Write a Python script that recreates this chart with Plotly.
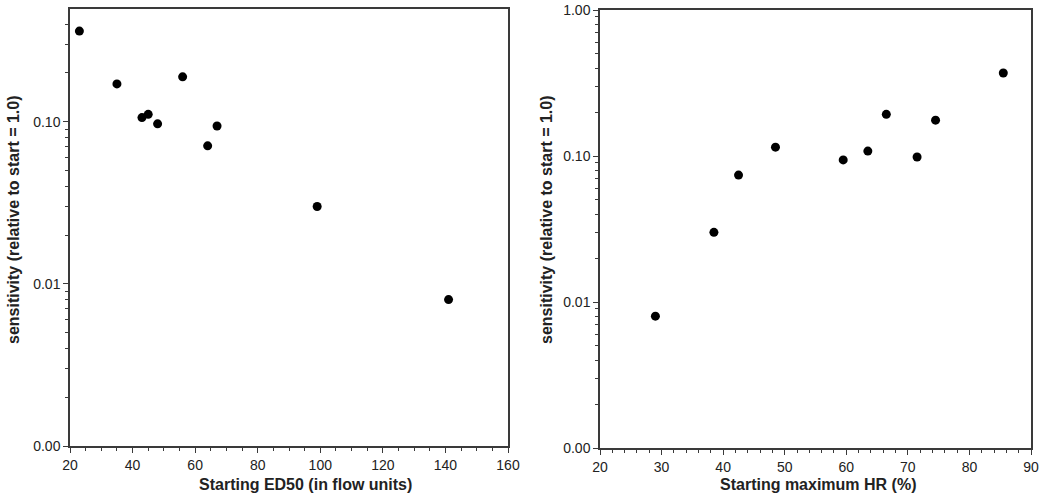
import plotly.graph_objects as go

# Left panel: starting ED50 vs sensitivity
ed50 = [23, 35, 43, 45, 48, 56, 64, 67, 99, 141]
sens_left = [0.362, 0.171, 0.106, 0.111, 0.097, 0.189, 0.071, 0.094, 0.030, 0.008]

# Right panel: starting maximum HR vs sensitivity
max_hr = [29, 38.5, 42.5, 48.5, 59.5, 63.5, 66.5, 71.5, 74.5, 85.5]
sens_right = [0.008, 0.030, 0.074, 0.115, 0.094, 0.108, 0.193, 0.0985, 0.176, 0.37]

y_tickvals = [0.001, 0.01, 0.1, 1.0]
y_ticktext = ["0.00", "0.01", "0.10", "1.00"]

ytitle = "sensitivity (relative to start = 1.0)"
xtitle_left = "Starting ED50 (in flow units)"
xtitle_right = "Starting maximum HR (%)"

FONT = "Liberation Sans, Arial, Helvetica, sans-serif"
LINE = "#3a3a3a"
W, H = 1050, 499

fig = go.Figure()
fig.add_trace(go.Scatter(x=ed50, y=sens_left, mode="markers",
                         marker=dict(color="black", size=9),
                         xaxis="x", yaxis="y", showlegend=False))
fig.add_trace(go.Scatter(x=max_hr, y=sens_right, mode="markers",
                         marker=dict(color="black", size=9),
                         xaxis="x2", yaxis="y2", showlegend=False))

common_axis = dict(showgrid=False, zeroline=False, showline=True, linecolor=LINE,
                   linewidth=1.5, mirror=True, ticks="outside", ticklen=5,
                   tickwidth=1.2, tickcolor=LINE, automargin=False,
                   tickfont=dict(family=FONT, size=14, color="#222"))

fig.update_layout(
    width=W, height=H,
    paper_bgcolor="white", plot_bgcolor="white",
    margin=dict(l=0, r=0, t=0, b=0),
    font=dict(family=FONT, color="#222"),
    xaxis=dict(domain=[70/W, 508/W], range=[20, 160], anchor="y",
               dtick=20, minor=dict(ticks="outside", dtick=5, ticklen=3, tickcolor=LINE),
               **common_axis),
    yaxis=dict(domain=[1 - 446/H, 1 - 9/H], type="log", range=[-3, -0.305], anchor="x",
               tickvals=y_tickvals, ticktext=y_ticktext,
               minor=dict(ticks="outside", dtick="D1", ticklen=3, tickcolor=LINE),
               **common_axis),
    xaxis2=dict(domain=[600/W, 1031/W], range=[20, 90], anchor="y2",
                dtick=10, minor=dict(ticks="outside", dtick=2, ticklen=3, tickcolor=LINE),
                **common_axis),
    yaxis2=dict(domain=[1 - 448/H, 1 - 10/H], type="log", range=[-3, 0], anchor="x2",
                tickvals=y_tickvals, ticktext=y_ticktext,
                minor=dict(ticks="outside", dtick="D1", ticklen=3, tickcolor=LINE),
                **common_axis),
)

title_font = dict(family=FONT, size=16, color="#222")
fig.add_annotation(text="<b>" + xtitle_left + "</b>", xref="paper", yref="paper",
                   x=305/W, y=1 - 474/H, xanchor="center", yanchor="top",
                   showarrow=False, font=title_font)
fig.add_annotation(text="<b>" + xtitle_right + "</b>", xref="paper", yref="paper",
                   x=818/W, y=1 - 474/H, xanchor="center", yanchor="top",
                   showarrow=False, font=title_font)
fig.add_annotation(text="<b>" + ytitle + "</b>", xref="paper", yref="paper",
                   x=13/W, y=1 - 220/H, xanchor="center", yanchor="middle",
                   textangle=-90, showarrow=False, font=title_font)
fig.add_annotation(text="<b>" + ytitle + "</b>", xref="paper", yref="paper",
                   x=546/W, y=1 - 220/H, xanchor="center", yanchor="middle",
                   textangle=-90, showarrow=False, font=title_font)

fig.write_html("out.html", config={"displayModeBar": False},
               post_script="document.body.style.margin='0px';")
